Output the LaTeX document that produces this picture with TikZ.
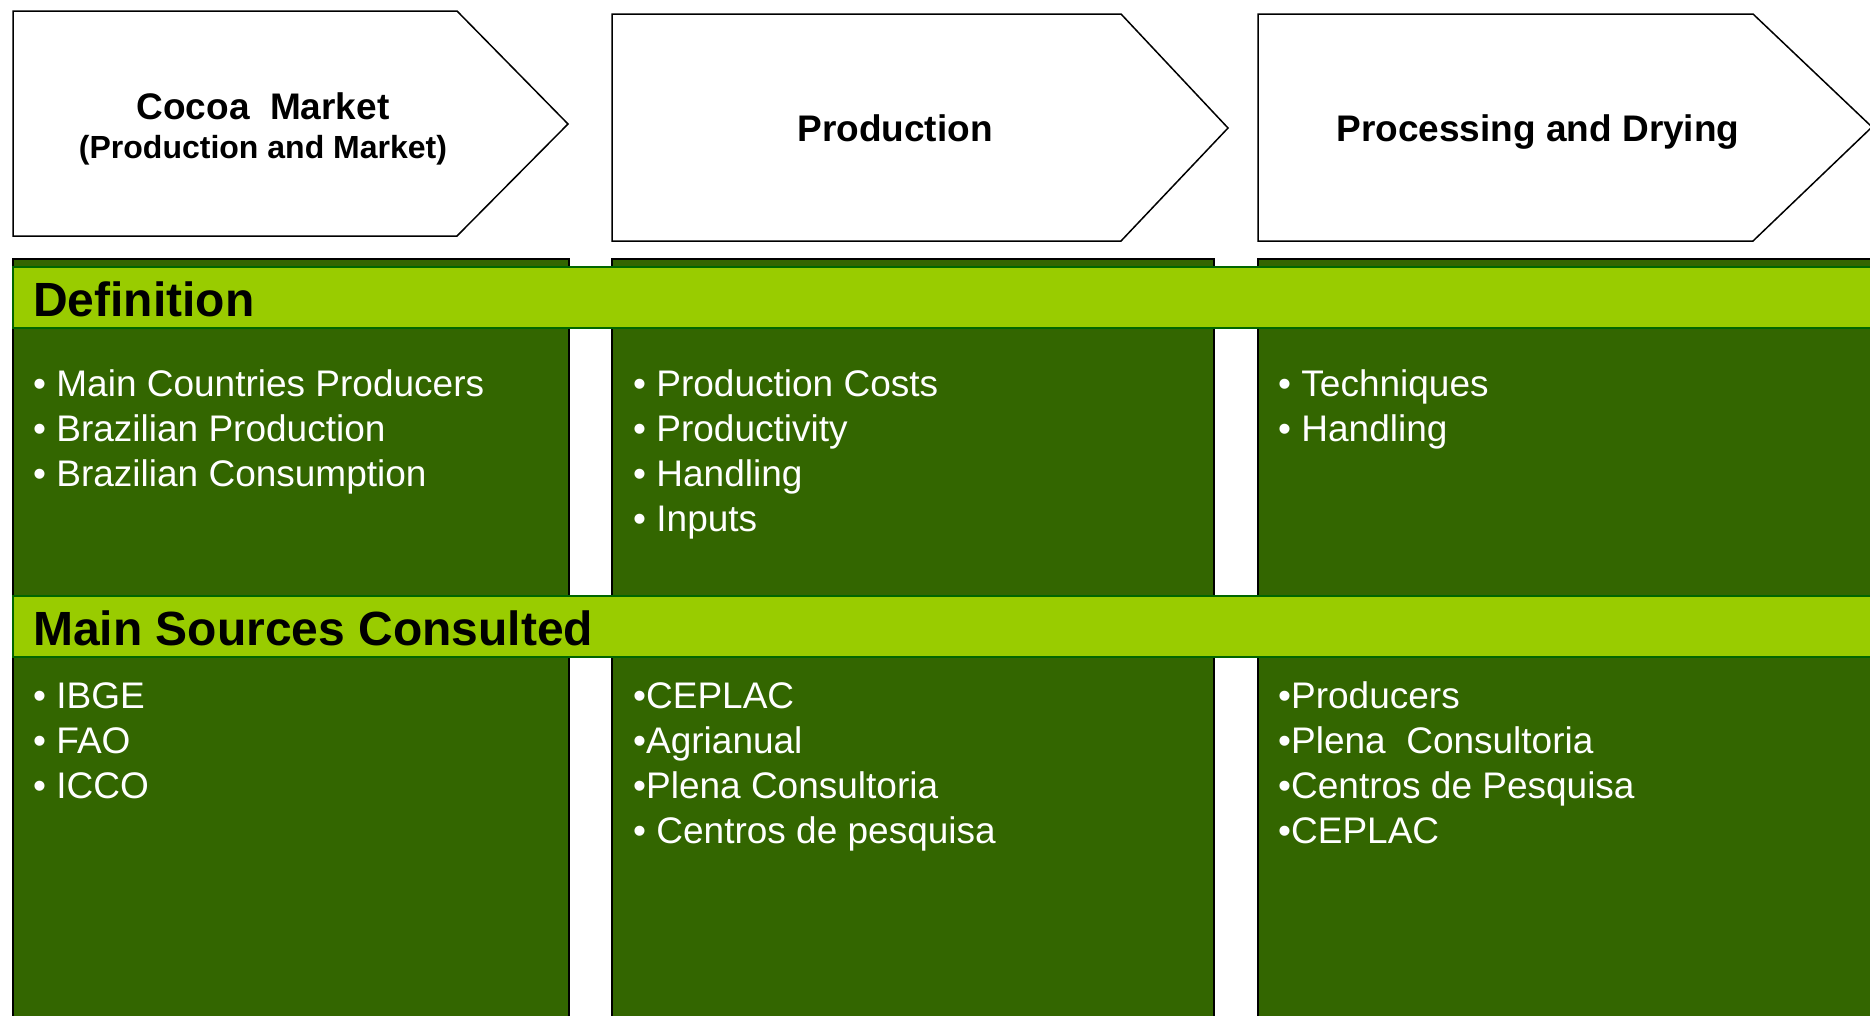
\documentclass[tikz,border=0pt]{standalone}
\usepackage{fontspec}
\setmainfont{Liberation Sans}
\definecolor{darkg}{HTML}{336600}
\definecolor{lightg}{HTML}{99CC00}
\definecolor{bandline}{HTML}{006600}
\tikzset{
  arrowshape/.style={draw=black, line width=1.5pt, fill=white, line join=miter},
  colbox/.style={fill=darkg, draw=black, line width=1.5pt},
  band/.style={fill=lightg, draw=bandline, line width=2pt},
  titletext/.style={font=\fontsize{37}{44}\selectfont\bfseries, anchor=base, inner sep=0pt},
  subtitletext/.style={font=\fontsize{32}{38}\selectfont\bfseries, anchor=base, inner sep=0pt},
  headtext/.style={font=\fontsize{48}{56}\selectfont\bfseries, anchor=base west, inner sep=0pt},
  item/.style={font=\fontsize{37}{45}\selectfont, text=white, anchor=base west, inner sep=0pt}
}
\begin{document}
\begin{tikzpicture}[x=1pt,y=-1pt]
\useasboundingbox (0,0) rectangle (1870,1015);
% chevrons
\draw[arrowshape] (13,11) -- (457,11) -- (568,124) -- (457,236) -- (13,236) -- cycle;
\draw[arrowshape] (612,14) -- (1121,14) -- (1228,128) -- (1121,241) -- (612,241) -- cycle;
\draw[arrowshape] (1258,14) -- (1753,14) -- (1872,127) -- (1753,241) -- (1258,241) -- cycle;
\node[titletext] (t1a) at (263,119) {Cocoa\ \ Market};
\node[subtitletext] (t1b) at (263,158) {(Production and Market)};
\node[titletext] (t2) at (895,141) {Production};
\node[titletext] (t3) at (1538,141) {Processing and Drying};
% columns
\draw[colbox] (13,259) rectangle (569,1030);
\draw[colbox] (612,259) rectangle (1214,1030);
\draw[colbox] (1258,259) rectangle (1890,1030);
% bands
\draw[band] (13,267) rectangle (1890,328);
\draw[band] (13,596) rectangle (1890,657);
\node[headtext] (h1) at (33,316) {Definition};
\node[headtext] (h2) at (33,645) {Main Sources Consulted};
% definitions
\node[item] (d1a) at (33,396) {• Main Countries Producers};
\node[item] (d1b) at (33,441) {• Brazilian Production};
\node[item] (d1c) at (33,486) {• Brazilian Consumption};
\node[item] (d2a) at (633,396) {• Production Costs};
\node[item] (d2b) at (633,441) {• Productivity};
\node[item] (d2c) at (633,486) {• Handling};
\node[item] (d2d) at (633,531) {• Inputs};
\node[item] (d3a) at (1278,396) {• Techniques};
\node[item] (d3b) at (1278,441) {• Handling};
% sources
\node[item] (s1a) at (33,708) {• IBGE};
\node[item] (s1b) at (33,753) {• FAO};
\node[item] (s1c) at (33,798) {• ICCO};
\node[item] (s2a) at (633,708) {•CEPLAC};
\node[item] (s2b) at (633,753) {•Agrianual};
\node[item] (s2c) at (633,798) {•Plena Consultoria};
\node[item] (s2d) at (633,843) {• Centros de pesquisa};
\node[item] (s3a) at (1278,708) {•Producers};
\node[item] (s3b) at (1278,753) {•Plena\ \ Consultoria};
\node[item] (s3c) at (1278,798) {•Centros de Pesquisa};
\node[item] (s3d) at (1278,843) {•CEPLAC};
\end{tikzpicture}
\end{document}
